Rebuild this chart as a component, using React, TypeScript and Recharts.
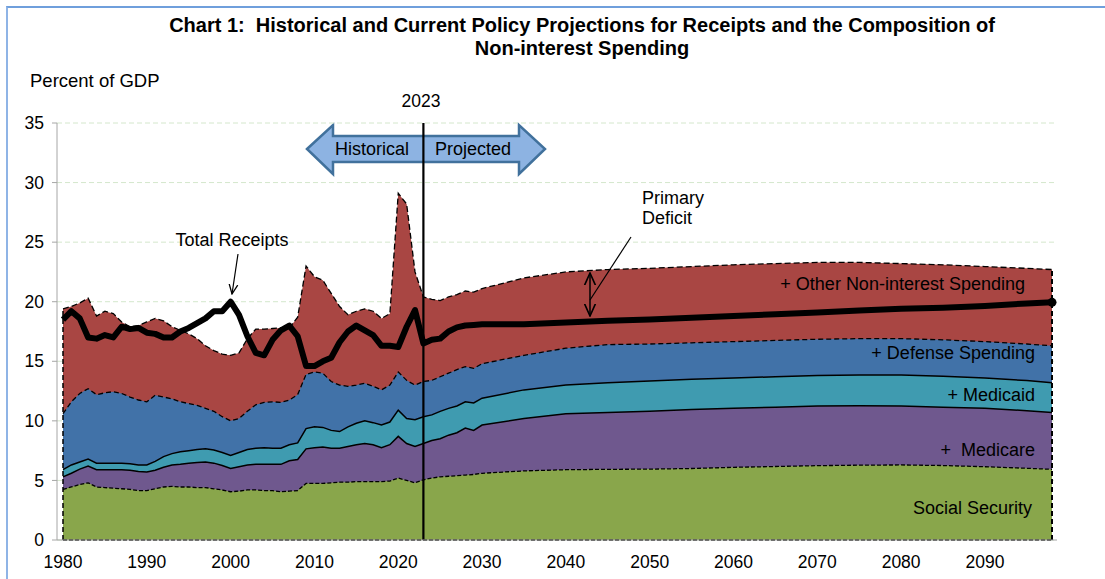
import React from "react";
import {
  ComposedChart,
  Area,
  Line,
  XAxis,
  YAxis,
  CartesianGrid,
  ReferenceLine,
} from "recharts";

// fiscal years: annual through 2030, then every 5 years to the end of the projection
const years = [
  1980, 1981, 1982, 1983, 1984, 1985, 1986, 1987, 1988, 1989,
  1990, 1991, 1992, 1993, 1994, 1995, 1996, 1997, 1998, 1999,
  2000, 2001, 2002, 2003, 2004, 2005, 2006, 2007, 2008, 2009,
  2010, 2011, 2012, 2013, 2014, 2015, 2016, 2017, 2018, 2019,
  2020, 2021, 2022, 2023, 2024, 2025, 2026, 2027, 2028, 2029,
  2030, 2035, 2040, 2045, 2050, 2055, 2060, 2065, 2070, 2075,
  2080, 2085, 2090, 2095, 2098,
];

const xTicks = [1980, 1990, 2000, 2010, 2020, 2030, 2040, 2050, 2060, 2070, 2080, 2090];
const yTicks = [0, 5, 10, 15, 20, 25, 30, 35];

// cumulative levels, percent of GDP (each series includes the ones below it)
const socialSecurity = [
  4.25, 4.45, 4.65, 4.8, 4.45, 4.4, 4.35, 4.3, 4.25, 4.15,
  4.15, 4.3, 4.45, 4.5, 4.45, 4.45, 4.4, 4.4, 4.3, 4.2,
  4.05, 4.1, 4.2, 4.2, 4.15, 4.15, 4.05, 4.1, 4.15, 4.75,
  4.75, 4.75, 4.8, 4.85, 4.85, 4.9, 4.9, 4.9, 4.9, 4.95,
  5.2, 5.0, 4.8, 5.05, 5.2, 5.3, 5.35, 5.4, 5.45, 5.5,
  5.6, 5.8, 5.9, 5.93, 5.95, 6.0, 6.1, 6.17, 6.24, 6.28,
  6.3, 6.25, 6.15, 6.02, 5.93,
];

const plusMedicare = [
  5.3, 5.6, 5.95, 6.2, 5.9, 5.9, 5.9, 5.9, 5.85, 5.75,
  5.7, 5.85, 6.1, 6.3, 6.35, 6.45, 6.5, 6.55, 6.45, 6.25,
  6.0, 6.15, 6.3, 6.35, 6.35, 6.35, 6.35, 6.65, 6.75, 7.65,
  7.75, 7.8, 7.7, 7.7, 7.85, 8.0, 8.1, 8.0, 7.75, 8.0,
  8.7, 8.1, 7.85, 8.1, 8.35, 8.5, 8.8, 9.0, 9.4, 9.2,
  9.65, 10.2, 10.6, 10.7, 10.8, 10.95, 11.05, 11.15, 11.25, 11.27,
  11.25, 11.15, 11.05, 10.85, 10.7,
];

const plusMedicaid = [
  5.9, 6.3, 6.55, 6.8, 6.45, 6.45, 6.45, 6.45, 6.4, 6.3,
  6.3, 6.6, 7.0, 7.25, 7.4, 7.5, 7.6, 7.65, 7.55, 7.35,
  7.1, 7.35, 7.6, 7.7, 7.75, 7.7, 7.7, 8.0, 8.15, 9.35,
  9.5, 9.45, 9.2, 9.1, 9.5, 9.8, 10.0, 9.85, 9.65, 9.9,
  10.9, 10.2, 10.1, 10.35, 10.5, 10.8, 11.05, 11.25, 11.6, 11.5,
  11.9, 12.6, 13.0, 13.2, 13.35, 13.5, 13.6, 13.7, 13.8, 13.85,
  13.85, 13.75, 13.6, 13.38, 13.2,
];

const plusDefense = [
  10.6, 11.6, 12.3, 12.7, 12.2, 12.35, 12.45, 12.3, 12.0, 11.75,
  11.6, 12.15, 12.0, 11.85, 11.6, 11.45, 11.3, 11.05, 10.8, 10.35,
  10.0, 10.2, 10.8, 11.35, 11.55, 11.6, 11.55, 11.75, 12.2, 13.9,
  14.1, 14.0, 13.3, 13.0, 12.9, 13.0, 13.15, 12.9, 12.6, 13.0,
  14.1, 13.4, 13.0, 13.3, 13.4, 13.7, 14.0, 14.3, 14.55, 14.4,
  14.8, 15.5, 16.1, 16.4, 16.45, 16.55, 16.65, 16.75, 16.85, 16.9,
  16.9, 16.8, 16.65, 16.45, 16.3,
];

const plusOther = [
  19.4, 19.6, 19.9, 20.3, 18.8, 19.2, 19.0, 18.3, 17.9, 18.0,
  18.3, 18.6, 18.4, 17.9, 17.6, 17.3, 16.9, 16.3, 15.9, 15.6,
  15.5, 15.7, 16.9, 17.7, 17.7, 17.75, 17.8, 17.8, 18.7, 23.0,
  22.1, 21.8, 20.7, 19.6, 18.9, 19.2, 19.4, 19.2, 18.6, 19.0,
  29.1, 28.2, 22.5, 20.4, 20.2, 20.1, 20.4, 20.6, 20.9, 20.8,
  21.1, 22.0, 22.5, 22.7, 22.8, 22.95, 23.1, 23.2, 23.3, 23.3,
  23.2, 23.1, 22.95, 22.8, 22.7,
];

const totalReceipts = [
  18.5, 19.2, 18.6, 17.0, 16.9, 17.2, 17.0, 17.9, 17.7, 17.8,
  17.4, 17.3, 17.0, 17.0, 17.5, 17.8, 18.2, 18.6, 19.2, 19.2,
  20.0, 18.9, 17.1, 15.7, 15.5, 16.8, 17.6, 18.0, 17.1, 14.6,
  14.6, 15.0, 15.3, 16.6, 17.5, 18.0, 17.6, 17.2, 16.3, 16.3,
  16.2, 17.9, 19.3, 16.5, 16.8, 16.9, 17.5, 17.85, 18.0, 18.05,
  18.1, 18.1, 18.25, 18.4, 18.5, 18.65, 18.8, 18.95, 19.1, 19.27,
  19.4, 19.5, 19.65, 19.85, 19.95,
];

const data = years.map((year, i) => ({
  year,
  ss: socialSecurity[i],
  medicare: plusMedicare[i],
  medicaid: plusMedicaid[i],
  defense: plusDefense[i],
  other: plusOther[i],
  receipts: totalReceipts[i],
}));

const FONT = "'Liberation Sans', Arial, sans-serif";
const first = years[0];
const last = years[years.length - 1];
const pre = { whiteSpace: "pre" as const };

export default function App() {
  const tick = { fill: "#000", fontSize: 17.5, fontFamily: FONT };

  return (
    <div
      style={{
        position: "absolute",
        left: 0,
        top: 0,
        width: 1105,
        height: 579,
        background: "#fff",
        fontFamily: FONT,
        overflow: "hidden",
      }}
    >
      {/* frame edge */}
      <div
        style={{
          position: "absolute",
          left: 6,
          top: 6,
          right: 0,
          bottom: 0,
          borderTop: "2px solid #6f9fdc",
          borderLeft: "2px solid #8fb4e6",
        }}
      />

      {/* Historical / Projected arrow, under the chart so the 2023 line crosses it */}
      <svg width={1105} height={579} style={{ position: "absolute", left: 0, top: 0 }}>
        <polygon
          points="307,149 333,125 333,136 519,136 519,125 545,149 519,174 519,162 333,162 333,174"
          fill="#8db3e2"
          stroke="#41719c"
          strokeWidth={2.5}
          strokeLinejoin="miter"
        />
        <text x={372} y={149} textAnchor="middle" dominantBaseline="central" fontSize={18} fontFamily={FONT}>
          Historical
        </text>
        <text x={473} y={149} textAnchor="middle" dominantBaseline="central" fontSize={18} fontFamily={FONT}>
          Projected
        </text>
      </svg>

      <div style={{ position: "absolute", left: 0, top: 0 }}>
        <ComposedChart
          width={1105}
          height={579}
          data={data}
          margin={{ top: 123, right: 48, bottom: 9, left: 12 }}
        >
          <CartesianGrid vertical={false} stroke="#d4e7cc" strokeDasharray="5 3" />
          <XAxis
            dataKey="year"
            type="number"
            domain={[1980, 2098]}
            ticks={xTicks}
            padding={{ left: 6, right: 5 }}
            height={30}
            tickLine={false}
            tickMargin={10}
            stroke="#a6a6a6"
            tick={tick}
          />
          <YAxis
            domain={[0, 35]}
            ticks={yTicks}
            width={45}
            tickSize={5}
            tickMargin={8}
            stroke="#a6a6a6"
            tick={tick}
          />
          <Area
            dataKey="other"
            type="linear"
            fill="#a94643"
            fillOpacity={1}
            stroke="#000"
            strokeWidth={1.3}
            strokeDasharray="6 3"
            isAnimationActive={false}
          />
          <Area
            dataKey="defense"
            type="linear"
            fill="#4172a8"
            fillOpacity={1}
            stroke="#000"
            strokeWidth={1.3}
            strokeDasharray="5 3"
            isAnimationActive={false}
          />
          <Area
            dataKey="medicaid"
            type="linear"
            fill="#3f9bb0"
            fillOpacity={1}
            stroke="#000"
            strokeWidth={1.5}
            isAnimationActive={false}
          />
          <Area
            dataKey="medicare"
            type="linear"
            fill="#6f588e"
            fillOpacity={1}
            stroke="#000"
            strokeWidth={1.5}
            isAnimationActive={false}
          />
          <Area
            dataKey="ss"
            type="linear"
            fill="#89a64b"
            fillOpacity={1}
            stroke="#000"
            strokeWidth={1.3}
            strokeDasharray="4 2"
            isAnimationActive={false}
          />
          {/* dashed outline of the stacked block */}
          <ReferenceLine
            segment={[{ x: first, y: 0 }, { x: first, y: plusOther[0] }]}
            stroke="#000"
            strokeWidth={1.5}
            strokeDasharray="5 3"
          />
          <ReferenceLine
            segment={[{ x: last, y: 0 }, { x: last, y: plusOther[plusOther.length - 1] }]}
            stroke="#000"
            strokeWidth={2}
            strokeDasharray="5 3"
          />
          <ReferenceLine
            segment={[{ x: first, y: 0 }, { x: last, y: 0 }]}
            stroke="#000"
            strokeWidth={1.3}
            strokeDasharray="4 2"
          />
          <ReferenceLine x={2023} stroke="#000" strokeWidth={2.2} />
          <Line
            dataKey="receipts"
            type="linear"
            stroke="#000"
            strokeWidth={6}
            strokeLinejoin="round"
            isAnimationActive={false}
            dot={(p: any) =>
              p.index === years.length - 1 ? (
                <circle key="end" cx={p.cx} cy={p.cy} r={4.5} fill="#000" />
              ) : (
                <g key={p.index} />
              )
            }
            activeDot={false}
          />
        </ComposedChart>
      </div>

      {/* text and callouts on top */}
      <svg
        width={1105}
        height={579}
        style={{ position: "absolute", left: 0, top: 0, pointerEvents: "none" }}
      >
        <defs>
          <marker id="open" viewBox="0 0 10 10" refX="9" refY="5" markerWidth="9" markerHeight="9" orient="auto-start-reverse">
            <path d="M0,1 L9,5 L0,9" fill="none" stroke="#000" strokeWidth={1.2} />
          </marker>
        </defs>
        <text x={582} y={25} textAnchor="middle" dominantBaseline="central" fontSize={20} fontWeight="bold" fontFamily={FONT} style={pre}>
          {"Chart 1:  Historical and Current Policy Projections for Receipts and the Composition of"}
        </text>
        <text x={582} y={48} textAnchor="middle" dominantBaseline="central" fontSize={20} fontWeight="bold" fontFamily={FONT}>
          Non-interest Spending
        </text>
        <text x={30} y={80} dominantBaseline="central" fontSize={18.5} fontFamily={FONT}>
          Percent of GDP
        </text>
        <text x={421} y={101} textAnchor="middle" dominantBaseline="central" fontSize={17.5} fontFamily={FONT}>
          2023
        </text>

        <text x={232} y={240} textAnchor="middle" dominantBaseline="central" fontSize={18} fontFamily={FONT}>
          Total Receipts
        </text>
        <line x1={238} y1={254} x2={232} y2={294} stroke="#000" strokeWidth={1.2} markerEnd="url(#open)" />

        <text x={642} y={198} dominantBaseline="central" fontSize={18} fontFamily={FONT}>
          Primary
        </text>
        <text x={642} y={218} dominantBaseline="central" fontSize={18} fontFamily={FONT}>
          Deficit
        </text>
        <line x1={631} y1={237} x2={590} y2={300} stroke="#000" strokeWidth={1.2} />
        <line
          x1={590}
          y1={273}
          x2={590}
          y2={316}
          stroke="#000"
          strokeWidth={1.5}
          markerStart="url(#open)"
          markerEnd="url(#open)"
        />

        <text x={1025} y={284} textAnchor="end" dominantBaseline="central" fontSize={18} fontFamily={FONT}>
          + Other Non-interest Spending
        </text>
        <text x={1035} y={353} textAnchor="end" dominantBaseline="central" fontSize={18} fontFamily={FONT}>
          + Defense Spending
        </text>
        <text x={1035} y={395} textAnchor="end" dominantBaseline="central" fontSize={18} fontFamily={FONT}>
          + Medicaid
        </text>
        <text x={1035} y={450} textAnchor="end" dominantBaseline="central" fontSize={18} fontFamily={FONT} style={pre}>
          {"+  Medicare"}
        </text>
        <text x={1032} y={508} textAnchor="end" dominantBaseline="central" fontSize={18} fontFamily={FONT}>
          Social Security
        </text>
      </svg>
    </div>
  );
}
